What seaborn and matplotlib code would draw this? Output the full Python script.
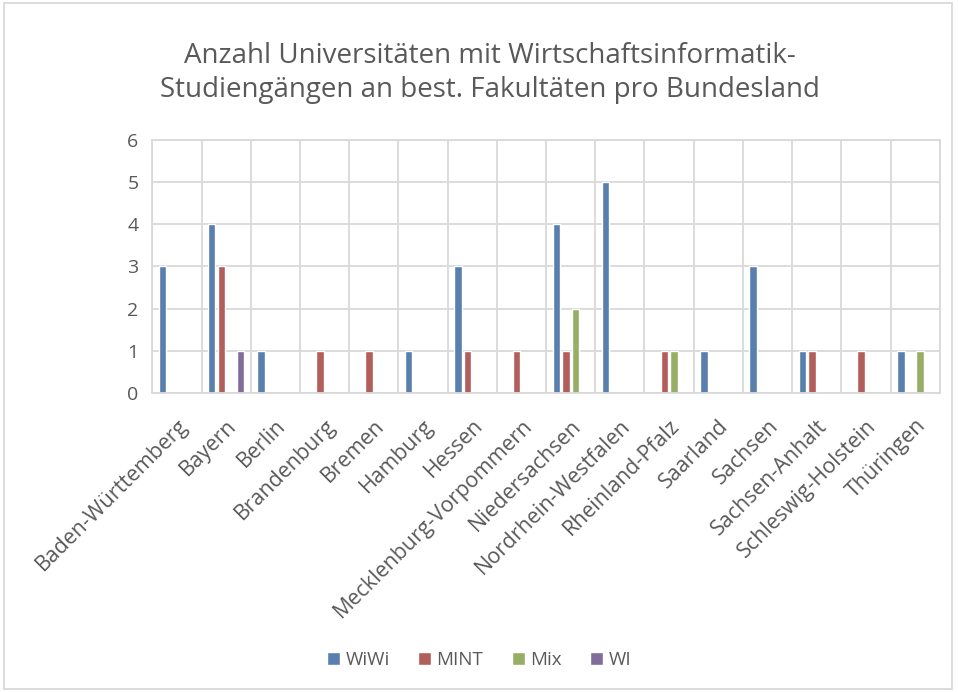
import pandas as pd
import numpy as np
import matplotlib.pyplot as plt
import seaborn as sns
from matplotlib.patches import Rectangle

# Data
laender = ['Baden-Württemberg', 'Bayern', 'Berlin', 'Brandenburg', 'Bremen', 'Hamburg',
           'Hessen', 'Mecklenburg-Vorpommern', 'Niedersachsen', 'Nordrhein-Westfalen',
           'Rheinland-Pfalz', 'Saarland', 'Sachsen', 'Sachsen-Anhalt',
           'Schleswig-Holstein', 'Thüringen']
wiwi = [3, 4, 1, 0, 0, 1, 3, 0, 4, 5, 0, 1, 3, 1, 0, 1]
mint = [0, 3, 0, 1, 1, 0, 1, 1, 1, 0, 1, 0, 0, 1, 1, 0]
mix = [0, 0, 0, 0, 0, 0, 0, 0, 2, 0, 1, 0, 0, 0, 0, 1]
wi = [0, 1, 0, 0, 0, 0, 0, 0, 0, 0, 0, 0, 0, 0, 0, 0]
series = ['WiWi', 'MINT', 'Mix', 'WI']
colors = ['#4A7EBB', '#C0504D', '#9BBB59', '#8064A2']

df = pd.DataFrame({'Bundesland': laender * 4,
                   'Typ': np.repeat(series, len(laender)),
                   'Anzahl': wiwi + mint + mix + wi})

sns.set_style('white')
plt.rcParams['font.family'] = ['Open Sans', 'DejaVu Sans']

fig = plt.figure(figsize=(9.58, 6.92), dpi=100)
ax = fig.add_axes([0.159, 0.432, 0.822, 0.366])

sns.barplot(data=df, x='Bundesland', y='Anzahl', hue='Typ', palette=colors,
            width=0.78, gap=0.22, ax=ax, legend=True)

ax.set_ylim(0, 6)
ax.set_xlim(-0.5, len(laender) - 0.5)
ax.set_yticks(range(0, 7))
ax.set_xticks(np.arange(len(laender) + 1) - 0.5, minor=True)
ax.grid(axis='y', which='major', color='#D9D9D9', linewidth=1.3)
ax.grid(axis='x', which='minor', color='#D9D9D9', linewidth=1.3)
ax.set_axisbelow(True)
for s in ax.spines.values():
    s.set_color('#D9D9D9')
    s.set_linewidth(1.3)
ax.tick_params(axis='both', which='both', length=0, colors='#595959')
ax.tick_params(axis='y', labelsize=14, pad=10)
ax.set_xticks(range(len(laender)))
ax.set_xticklabels(laender, rotation=45, ha='right', rotation_mode='anchor', fontsize=15.4)
ax.tick_params(axis='x', pad=16)
ax.set_xlabel('')
ax.set_ylabel('')

fig.text(0.511, 0.895, 'Anzahl Universitäten mit Wirtschaftsinformatik-\nStudiengängen an best. Fakultäten pro Bundesland',
         ha='center', va='center', fontsize=20, color='#595959', linespacing=1.3)

handles, labels = ax.get_legend_handles_labels()
ax.legend_.remove()
fig.legend(handles, labels, loc='center', bbox_to_anchor=(0.5, 0.046), ncol=4,
           frameon=False, fontsize=13.5, handlelength=0.7, handleheight=0.7,
           handletextpad=0.3, columnspacing=1.5, labelcolor='#595959')

fig.patches.append(Rectangle((0.004, 0.005), 0.99, 0.99, transform=fig.transFigure,
                             fill=False, edgecolor='#D9D9D9', linewidth=1.3))

plt.savefig('out.png', dpi=100)
